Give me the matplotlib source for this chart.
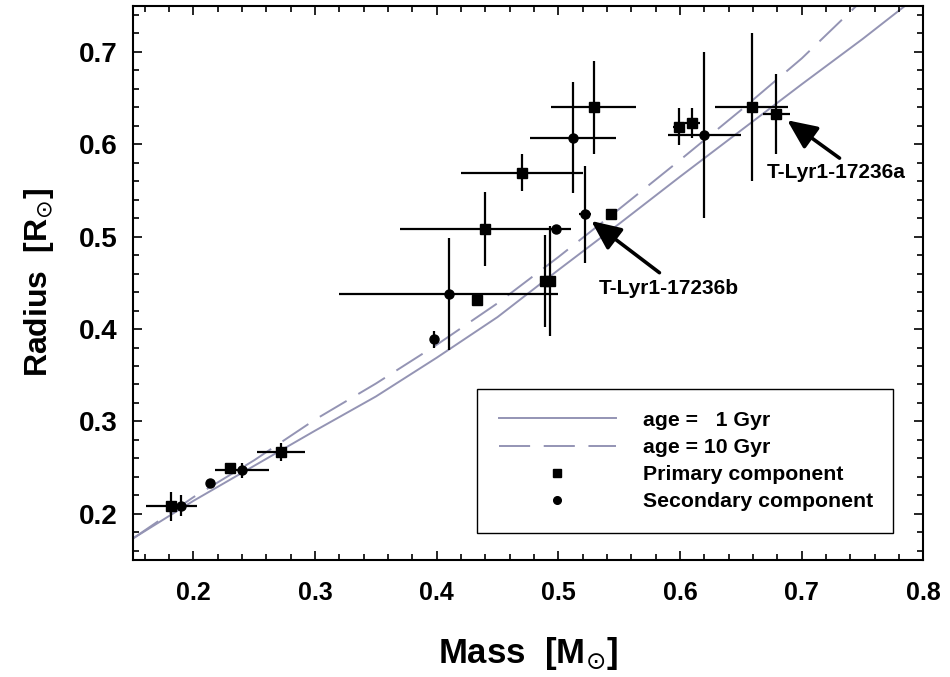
import matplotlib
matplotlib.use("Agg")
import matplotlib.pyplot as plt
from matplotlib import font_manager
from matplotlib.lines import Line2D
from matplotlib.ticker import MultipleLocator

# ---------------- data ----------------
# model isochrones
iso1_mass = [0.15, 0.20, 0.25, 0.30, 0.35, 0.40, 0.45, 0.50, 0.55, 0.60, 0.65, 0.70, 0.75, 0.785]
iso1_rad = [0.173, 0.214, 0.252, 0.290, 0.327, 0.369, 0.413, 0.464, 0.514, 0.565, 0.615, 0.665, 0.714, 0.750]
iso10_mass = [0.15, 0.20, 0.25, 0.30, 0.35, 0.40, 0.45, 0.50, 0.55, 0.60, 0.65, 0.70, 0.745]
iso10_rad = [0.173, 0.218, 0.258, 0.302, 0.341, 0.383, 0.428, 0.478, 0.530, 0.583, 0.637, 0.693, 0.750]

# primary components (squares)
prim_mass = [0.182, 0.230, 0.272, 0.433, 0.440, 0.489, 0.493, 0.470, 0.529, 0.543, 0.599, 0.610, 0.659, 0.679]
prim_rad = [0.208, 0.250, 0.267, 0.431, 0.508, 0.452, 0.452, 0.569, 0.640, 0.525, 0.619, 0.623, 0.640, 0.633]
prim_merr = [0.021, 0.0, 0.020, 0.0, 0.070, 0.0, 0.0, 0.050, 0.035, 0.0, 0.005, 0.006, 0.030, 0.011]
prim_rerr = [0.016, 0.0, 0.010, 0.005, 0.040, 0.050, 0.060, 0.020, 0.050, 0.0, 0.020, 0.016, 0.080, 0.043]

# secondary components (circles)
sec_mass = [0.190, 0.214, 0.240, 0.398, 0.410, 0.498, 0.522, 0.512, 0.620]
sec_rad = [0.209, 0.233, 0.247, 0.389, 0.438, 0.508, 0.524, 0.607, 0.610]
sec_merr = [0.0, 0.0, 0.022, 0.0, 0.090, 0.0, 0.005, 0.035, 0.030]
sec_rerr = [0.011, 0.0, 0.008, 0.009, 0.061, 0.0, 0.052, 0.060, 0.090]

labels_legend = ["age =   1 Gyr", "age = 10 Gyr", "Primary component", "Secondary component"]
ann_a = "T-Lyr1-17236a"
ann_b = "T-Lyr1-17236b"

xticks = [0.2, 0.3, 0.4, 0.5, 0.6, 0.7, 0.8]
yticks = [0.2, 0.3, 0.4, 0.5, 0.6, 0.7]

# ---------------- fonts ----------------
def has_font(name):
    try:
        font_manager.findfont(font_manager.FontProperties(family=name), fallback_to_default=False)
        return True
    except Exception:
        return False

wide = "Liberation Sans"
narrow = "Liberation Sans Narrow" if has_font("Liberation Sans Narrow") else "Liberation Sans"
plt.rcParams['font.family'] = [wide, 'DejaVu Sans']
plt.rcParams['mathtext.fontset'] = 'dejavusans'

curve_col = '#9494b4'

fig = plt.figure(figsize=(9.5, 6.77), dpi=100)
ax = fig.add_axes([0.1395, 0.1728, 0.8326, 0.8188])

ax.plot(iso1_mass, iso1_rad, color=curve_col, lw=1.4, zorder=1)
ax.plot(iso10_mass, iso10_rad, color=curve_col, lw=1.4, dashes=(16, 7), zorder=1)

ax.errorbar(prim_mass, prim_rad, xerr=prim_merr, yerr=prim_rerr, fmt='s', color='black',
            ms=7, elinewidth=1.6, capsize=0, zorder=3)
ax.errorbar(sec_mass, sec_rad, xerr=sec_merr, yerr=sec_rerr, fmt='o', color='black',
            ms=6.5, elinewidth=1.6, capsize=0, zorder=3)

# annotations
arrow_kw = dict(arrowstyle='-|>,head_length=1.0,head_width=0.45', color='black', lw=2.6,
                shrinkA=0, shrinkB=0, mutation_scale=18)
ax.annotate('', xy=(0.688, 0.626), xytext=(0.731, 0.585), arrowprops=arrow_kw)
ax.annotate('', xy=(0.527, 0.517), xytext=(0.583, 0.461), arrowprops=arrow_kw)
ax.text(0.6716, 0.5698, ann_a, fontsize=15, fontweight='bold', ha='left', va='center')
ax.text(0.5328, 0.4438, ann_b, fontsize=15, fontweight='bold', ha='left', va='center')

ax.set_xlim(0.15, 0.8)
ax.set_ylim(0.15, 0.75)
ax.set_xticks(xticks)
ax.set_yticks(yticks)
ax.set_xticklabels([f"{t:.1f}" for t in xticks], fontsize=18, fontweight='bold', family=[narrow, 'DejaVu Sans'])
ax.set_yticklabels([f"{t:.1f}" for t in yticks], fontsize=20, fontweight='bold')
ax.xaxis.set_minor_locator(MultipleLocator(0.02))
ax.yaxis.set_minor_locator(MultipleLocator(0.02))
ax.tick_params(which='both', direction='in', top=True, right=True, width=1.2)
ax.tick_params(which='major', length=6.5)
ax.tick_params(which='minor', length=4)
ax.tick_params(axis='x', which='major', pad=15)
ax.tick_params(axis='y', which='major', pad=11)
for s in ax.spines.values():
    s.set_linewidth(1.5)

ax.set_xlabel(r'Mass  [M$_{\odot}$]', fontsize=25, fontweight='bold', family=[narrow, 'DejaVu Sans'], labelpad=22)
ax.set_ylabel(r'Radius  [R$_{\odot}$]', fontsize=23, fontweight='bold', labelpad=16)

handles = [
    Line2D([], [], color=curve_col, lw=1.4),
    Line2D([], [], color=curve_col, lw=1.4, dashes=(16, 7)),
    Line2D([], [], ls='none', marker='s', color='black', ms=6),
    Line2D([], [], ls='none', marker='o', color='black', ms=5.5),
]
leg = ax.legend(handles, labels_legend, loc='lower left', bbox_to_anchor=(0.435, 0.048, 0.527, 0.26),
                mode='expand', prop=dict(family=wide, weight='bold', size=15.3), handlelength=5.5,
                handletextpad=1.3, labelspacing=0.38, borderpad=1.05, fancybox=False,
                edgecolor='black', framealpha=1, numpoints=1, borderaxespad=0)
leg.get_frame().set_linewidth(1.0)

fig.savefig('out.png', dpi=100)
